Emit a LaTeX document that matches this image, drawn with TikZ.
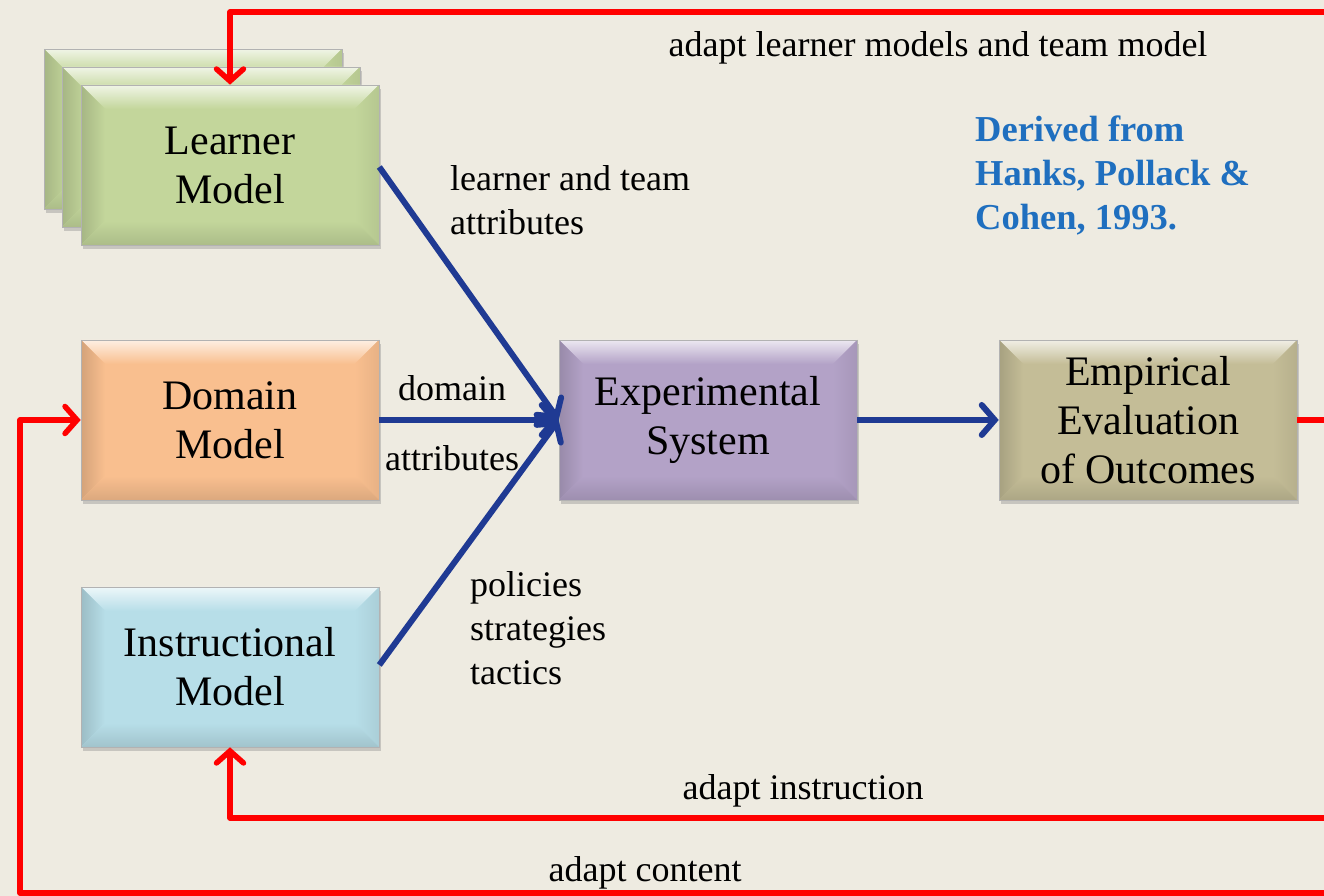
\documentclass[tikz,border=0pt]{standalone}
\usepackage{fontspec}
\setmainfont{Liberation Serif}
\usetikzlibrary{arrows.meta,shadows}
\definecolor{bg}{HTML}{EEEBE1}
\definecolor{cgreen}{HTML}{C3D69B}
\definecolor{corange}{HTML}{F9BF8F}
\definecolor{cpurple}{HTML}{B3A2C7}
\definecolor{cblue}{HTML}{B7DEE8}
\definecolor{ctan}{HTML}{C4BD97}
\definecolor{arrowblue}{HTML}{1F3A93}
\definecolor{refblue}{HTML}{1F6FBF}
\definecolor{linered}{HTML}{FF0000}
\tikzset{
  bevelbox/.style={minimum width=298pt, minimum height=160pt, inner sep=0pt,
    align=center, font=\fontsize{42}{49}\selectfont, fill=#1, draw=black!30, line width=0.6pt,
    drop shadow={shadow xshift=2pt, shadow yshift=-4pt, opacity=0.35},
    path picture={
      \path (path picture bounding box.north west) coordinate (pNW)
            (path picture bounding box.north east) coordinate (pNE)
            (path picture bounding box.south west) coordinate (pSW)
            (path picture bounding box.south east) coordinate (pSE);
      \shade[top color=#1!25!white, bottom color=#1] (pNW) -- (pNE) -- ([shift={(-24pt,-24pt)}]pNE) -- ([shift={(24pt,-24pt)}]pNW) -- cycle;
      \shade[left color=#1!85!black, right color=#1] (pNW) -- ([shift={(24pt,-24pt)}]pNW) -- ([shift={(24pt,24pt)}]pSW) -- (pSW) -- cycle;
      \shade[left color=#1, right color=#1!93!black] (pNE) -- ([shift={(-24pt,-24pt)}]pNE) -- ([shift={(-24pt,24pt)}]pSE) -- (pSE) -- cycle;
      \shade[top color=#1, bottom color=#1!88!black] (pSW) -- ([shift={(24pt,24pt)}]pSW) -- ([shift={(-24pt,24pt)}]pSE) -- (pSE) -- cycle;
    }},
  redline/.style={draw=linered, line width=5.5pt, line join=round,
    -{Straight Barb[length=12pt, width=27pt, line cap=round]}},
  redplain/.style={draw=linered, line width=5.5pt, line join=round},
  bluearrow/.style={draw=arrowblue, line width=6pt,
    -{Straight Barb[length=13pt, width=30pt, line cap=round]}},
  lbl/.style={font=\fontsize{36}{44}\selectfont, inner sep=0pt, align=left},
  reflbl/.style={font=\fontsize{36.5}{44}\selectfont\bfseries, text=refblue, inner sep=0pt, align=left}
}
\begin{document}
\begin{tikzpicture}[x=1pt,y=1pt]
\useasboundingbox (0,0) rectangle (1324,896);
\fill[bg] (0,0) rectangle (1324,896);
\clip (0,0) rectangle (1324,896);

% boxes
\node[bevelbox=cgreen] (lm3) at (193,767) {};
\node[bevelbox=cgreen] (lm2) at (211,749) {};
\node[bevelbox=cgreen] (lm) at (230,731) {Learner\\Model};
\node[bevelbox=corange] (dm) at (230,476) {Domain\\Model};
\node[bevelbox=cblue] (im) at (230,229) {Instructional\\Model};
\node[bevelbox=cpurple] (es) at (708,476) {Experimental\\System};
\node[bevelbox=ctan] (ee) at (1148,476) {Empirical\\Evaluation\\of Outcomes};

% free ends at the right edge
\coordinate (rTop) at (1340,884);
\coordinate (rEmp) at (1340,476);
\coordinate (rInst) at (1340,78);
\coordinate (rCont) at (1340,3);
\coordinate (lc) at (20,3);

% blue connectors
\draw[bluearrow] ([yshift=-2pt]lm.east) -- (es.west);
\draw[bluearrow] (dm.east) -- (es.west);
\draw[bluearrow] ([yshift=2pt]im.east) -- (es.west);
\draw[bluearrow] (es.east) -- (ee.west);

% red feedback connectors
\draw[redline] (rTop) -| (lm.north);
\draw[redplain] (ee.east) -- (rEmp);
\draw[redline] (rInst) -| (im.south);
\draw[redline] (rCont) -- (lc) |- (dm.west);

% labels
\node[lbl, anchor=center] (tTop) at (938,848) {adapt\ learner\ models\ and\ team\ model};
\node[reflbl, anchor=west] (tRef) at (975,721) {Derived from\\Hanks, Pollack \&\\Cohen, 1993.};
\node[lbl, anchor=west] (tLT) at (450,696) {learner and team\\attributes};
\node[lbl, anchor=center] (tDom) at (452,508) {domain};
\node[lbl, anchor=center] (tAttr) at (452,438) {attributes};
\node[lbl, anchor=west] (tPol) at (470,268) {policies\\strategies\\tactics};
\node[lbl, anchor=center] (tInst) at (803,105) {adapt instruction};
\node[lbl, anchor=center] (tCont) at (645,23) {adapt content};
\end{tikzpicture}
\end{document}
